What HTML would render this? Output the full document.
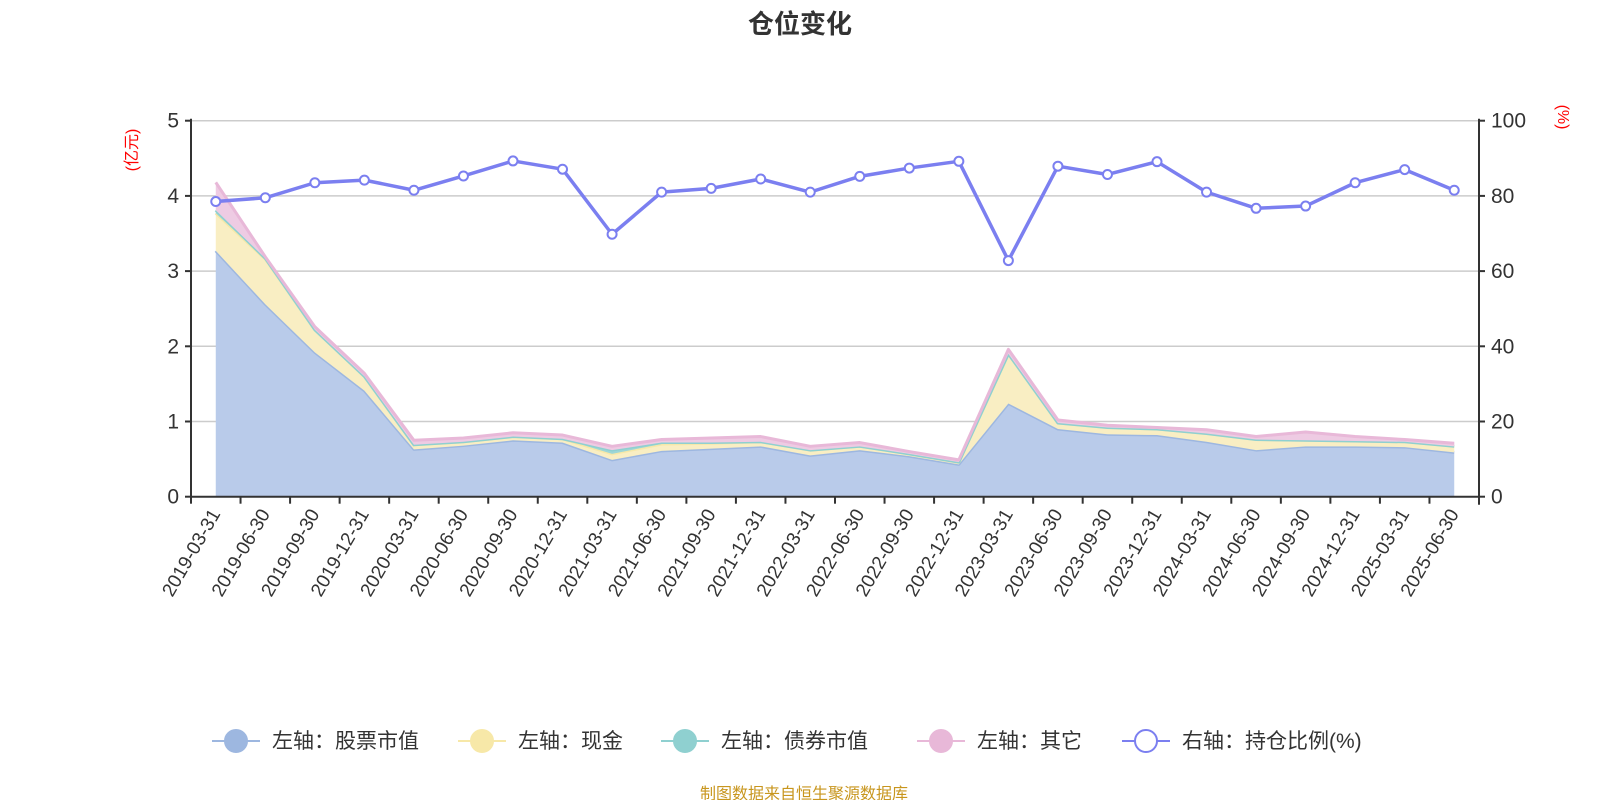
<!DOCTYPE html>
<html><head><meta charset="utf-8"><style>
body{margin:0;background:#fff;}
svg{display:block;font-family:"Liberation Sans","Noto Sans CJK SC",sans-serif;}
</style></head><body>
<svg id="c" width="1600" height="800">
<text x="800" y="33" text-anchor="middle" font-size="26" font-weight="bold" fill="#333">仓位变化</text>
<text transform="translate(137,150) rotate(-90)" text-anchor="middle" font-size="16" fill="#f00">(亿元)</text>
<text transform="translate(1558,117) rotate(90)" text-anchor="middle" font-size="16" fill="#f00">(%)</text>
<g id="grid"></g><g id="areas"></g><g id="axes"></g><g id="line"></g>
<g id="legend"></g>
<text x="804" y="799" text-anchor="middle" font-size="16" fill="#c8961e">制图数据来自恒生聚源数据库</text>
</svg>
<script>
const categories=["2019-03-31","2019-06-30","2019-09-30","2019-12-31","2020-03-31","2020-06-30","2020-09-30","2020-12-31","2021-03-31","2021-06-30","2021-09-30","2021-12-31","2022-03-31","2022-06-30","2022-09-30","2022-12-31","2023-03-31","2023-06-30","2023-09-30","2023-12-31","2024-03-31","2024-06-30","2024-09-30","2024-12-31","2025-03-31","2025-06-30"];
const stock=[3.27,2.56,1.92,1.41,0.63,0.68,0.75,0.72,0.49,0.61,0.64,0.67,0.55,0.62,0.54,0.43,1.24,0.90,0.83,0.82,0.73,0.62,0.67,0.67,0.66,0.59];
const cash=[0.50,0.60,0.30,0.19,0.06,0.05,0.05,0.05,0.08,0.09,0.07,0.06,0.07,0.05,0.03,0.03,0.66,0.08,0.09,0.08,0.11,0.14,0.08,0.07,0.07,0.08];
const bond=[0.04,0.01,0,0,0,0,0,0,0.05,0.02,0.01,0,0,0,0,0,0,0,0,0,0,0,0,0,0,0];
const other=[0.37,0.02,0.04,0.04,0.06,0.05,0.05,0.05,0.05,0.04,0.06,0.07,0.05,0.05,0.03,0.03,0.06,0.04,0.03,0.02,0.05,0.04,0.11,0.06,0.03,0.04];
const ratio=[78.5,79.5,83.5,84.2,81.5,85.3,89.3,87.1,69.8,81.0,82.0,84.5,81.0,85.2,87.4,89.2,62.8,87.9,85.7,89.1,81.0,76.7,77.3,83.5,87.0,81.5];
const leftTicks=[0,1,2,3,4,5];
const rightTicks=[0,20,40,60,80,100];
const NS="http://www.w3.org/2000/svg";
const X0=191,X1=1479,Y0=496.7,Y1=120.7;
const bw=(X1-X0)/categories.length;
const xs=i=>X0+bw*(i+0.5);
const yL=v=>Y0-(v/5)*(Y0-Y1);
const yR=v=>Y0-(v/100)*(Y0-Y1);
function mk(tag,attrs,parent){const e=document.createElementNS(NS,tag);for(const k in attrs)e.setAttribute(k,attrs[k]);parent.appendChild(e);return e;}
const grid=document.getElementById('grid'),axes=document.getElementById('axes'),areas=document.getElementById('areas'),lineG=document.getElementById('line');
leftTicks.forEach((t,i)=>{
 const y=yL(t);
 if(t>0){const g=mk('line',{x1:X0,x2:X1,y1:y,y2:y,stroke:'#ccc','stroke-width':1.5},grid);}
 const tk=mk('line',{x1:X0-6,x2:X0,y1:y,y2:y,stroke:'#333','stroke-width':2},axes);
 const tx=mk('text',{x:X0-12,y:y+7,'text-anchor':'end','font-size':21,fill:'#333'},axes);tx.textContent=t;
 
});
rightTicks.forEach(t=>{
 const y=yR(t);
 const tk=mk('line',{x1:X1,x2:X1+6,y1:y,y2:y,stroke:'#333','stroke-width':2},axes);
 const tx=mk('text',{x:X1+12,y:y+7,'text-anchor':'start','font-size':21,fill:'#333'},axes);tx.textContent=t;
 
});
let la=mk('line',{x1:X0,x2:X0,y1:Y1-2,y2:Y0,stroke:'#333','stroke-width':2},axes);
let ra=mk('line',{x1:X1,x2:X1,y1:Y1-2,y2:Y0+8,stroke:'#333','stroke-width':2},axes);
let xa=mk('line',{x1:X0,x2:X1,y1:Y0,y2:Y0,stroke:'#333','stroke-width':2},axes);
for(let i=0;i<=categories.length;i++){const x=X0+bw*i;const tk=mk('line',{x1:x,x2:x,y1:Y0,y2:Y0+7,stroke:'#333','stroke-width':2},axes);}
categories.forEach((c,i)=>{const x=xs(i),y=Y0+14;const tx=mk('text',{x:x,y:y+6,'text-anchor':'end','font-size':19,fill:'#333',transform:`rotate(-60 ${x} ${y})`},axes);tx.textContent=c;});
// stacked areas
const series=[{d:stock,fill:'#b9cbea',stroke:'#9db7e0',n:'stock-area'},{d:cash,fill:'#f9eec3',stroke:'#f7e8a8',n:'cash-area'},{d:bond,fill:'#9ed6d6',stroke:'#8fd0d0',n:'bond-area'},{d:other,fill:'#eecbe3',stroke:'#e8b8d8',n:'other-area'}];
let base=categories.map(()=>0);
series.forEach(s=>{
 const top=base.map((b,i)=>b+s.d[i]);
 let p='M'+categories.map((_,i)=>xs(i)+','+yL(top[i])).join(' L');
 for(let i=categories.length-1;i>=0;i--)p+=' L'+xs(i)+','+yL(base[i]);
 p+=' Z';
 const a=mk('path',{d:p,fill:s.fill,stroke:'none'},areas);
 const l=mk('polyline',{points:categories.map((_,i)=>xs(i)+','+yL(top[i])).join(' '),fill:'none',stroke:s.stroke,'stroke-width':3,'stroke-linejoin':'round'},areas);
 
 base=top;
});
const rl=mk('polyline',{points:ratio.map((v,i)=>xs(i)+','+yR(v)).join(' '),fill:'none',stroke:'#7b7ff0','stroke-width':3.5,'stroke-linejoin':'round'},lineG);

ratio.forEach((v,i)=>{const c=mk('circle',{cx:xs(i),cy:yR(v),r:4.5,fill:'#fff',stroke:'#7b7ff0','stroke-width':2},lineG);});
// legend
const leg=document.getElementById('legend');
const items=[{x:236,t:'左轴：股票市值',c:'#9db7e0',f:'#9db7e0'},{x:482,t:'左轴：现金',c:'#f7e8a8',f:'#f7e8a8'},{x:685,t:'左轴：债券市值',c:'#8fd0d0',f:'#8fd0d0'},{x:941,t:'左轴：其它',c:'#e8b8d8',f:'#e8b8d8'},{x:1146,t:'右轴：持仓比例(%)',c:'#7b7ff0',f:'#fff'}];
const LY=741;
items.forEach(it=>{
 const g=mk('g',{},leg);
 mk('line',{x1:it.x-24,x2:it.x+24,y1:LY,y2:LY,stroke:it.c,'stroke-width':2},g);
 mk('circle',{cx:it.x,cy:LY,r:11,fill:it.f,stroke:it.c,'stroke-width':2},g);
 const t=mk('text',{x:it.x+36,y:LY+7,'font-size':21,fill:'#333'},g);t.textContent=it.t;
});
</script>
</body></html>
